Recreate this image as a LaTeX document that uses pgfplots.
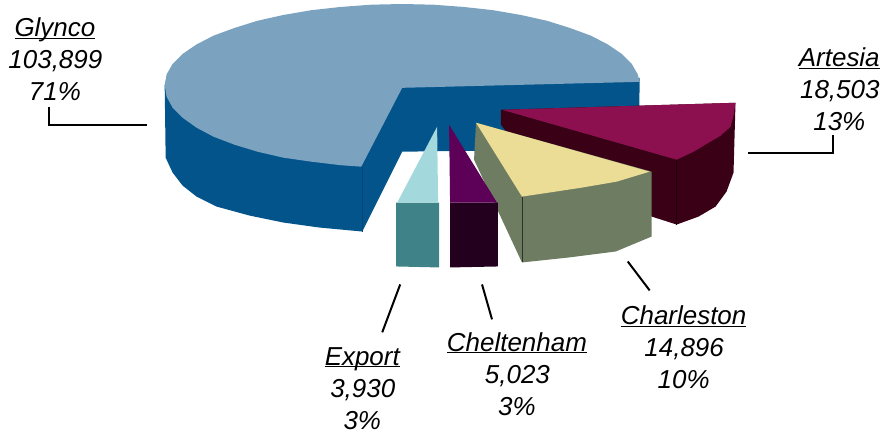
\documentclass[border=0pt]{standalone}
\usepackage{fontspec}
\setmainfont{Liberation Sans}
\usepackage{pgfplots}
\pgfplotsset{compat=1.18}
\definecolor{gtop}{HTML}{7BA3C0}
\definecolor{gside}{HTML}{04548C}
\definecolor{etop}{HTML}{A3D9DC}
\definecolor{eside}{HTML}{3F8288}
\definecolor{ctop}{HTML}{5C0058}
\definecolor{cside}{HTML}{22001E}
\definecolor{stop}{HTML}{EBDD96}
\definecolor{sside}{HTML}{6E7D62}
\definecolor{atop}{HTML}{8C1050}
\definecolor{aside}{HTML}{3A0016}
\newcommand{\lab}[5]{\node[anchor=base,font=\fontsize{26}{28}\selectfont\itshape] at (axis cs:#1,#2) {\underline{\smash{#3}}};
 \node[anchor=base,font=\fontsize{26}{28}\selectfont\itshape] at (axis cs:#1+0.5,#2+32) {#4};
 \node[anchor=base,font=\fontsize{26}{28}\selectfont\itshape] at (axis cs:#1,#2+64) {#5};}
\begin{document}
\begin{tikzpicture}
\begin{axis}[scale only axis,width=883pt,height=434pt,xmin=0,xmax=883,ymin=0,ymax=434,y dir=reverse,hide axis,clip=false,no markers]
\path (axis cs:0,0) rectangle (axis cs:883,434);
% Glynco side
\addplot[fill=gside,draw=none] coordinates {(165,85)(166,158)(173,173)(183,186)(197,197)(217,207)(250,216)(284,223)(320,228)(363,232)(403,152)(640,149)(641,78)(403,84)} --cycle;
\addplot[draw=black!15!gside,line width=0.5pt] coordinates {(363,167)(363,232)};
% Glynco top
\addplot[fill=gtop,draw=none] coordinates {(403,88)(641,82)(639,74.4)(633,64)(623,54)(609,44.5)(592,35.7)(571,28)(548,20.8)(522,15)(494,10.2)(465,7)(434,4.7)(403,4)(372,4.7)(341,7)(312,10.2)(284,15)(258,20.8)(235,28)(214,35.7)(197,44.5)(183,54)(173,64)(167,74.4)(165,85)(167,97)(173,108)(183,118)(197,128)(214,137)(235,145)(258,152)(284,158)(312,162)(341,165.5)(362,167)} --cycle;
% Artesia
\addplot[fill=aside,draw=none] coordinates {(502,110)(502,125)(560,200)(653,217)(678,225)(700,217)(717,207)(728,192)(735,173)(737,103)} --cycle;
\addplot[fill=atop,draw=none] coordinates {(503,110)(737,103)(735,116)(732,127)(722,136)(710,143)(695,152)(678,160)} --cycle;
\addplot[draw=black!50!aside,line width=0.5pt] coordinates {(678,160)(678,225)};
% Charleston
\addplot[fill=sside,draw=none] coordinates {(477,123)(475,160)(523,263)(570,258)(617,252)(653,237)(653,172)} --cycle;
\addplot[fill=stop,draw=none] coordinates {(477,123)(651,172)(618,182)(583,188)(550,193)(523,197)} --cycle;
\addplot[draw=black!60!sside,line width=0.5pt] coordinates {(523,197)(523,263)};
% Export
\addplot[fill=eside,draw=none] coordinates {(397,203)(440,203)(440,268)(397,267)} --cycle;
\addplot[fill=etop,draw=none] coordinates {(438,127)(439,203)(398,203)} --cycle;
% Cheltenham
\addplot[fill=cside,draw=none] coordinates {(451,203)(499,203)(499,267)(451,268)} --cycle;
\addplot[fill=ctop,draw=none] coordinates {(450,125)(498,203)(451,203)} --cycle;
% leader lines
\addplot[black,line width=2pt] coordinates {(49,107)(49,125)(147,125)};
\addplot[black,line width=2pt] coordinates {(750,153)(835,153)(835,135)};
\addplot[black,line width=2pt] coordinates {(629,262)(651,291)};
\addplot[black,line width=2pt] coordinates {(401,285)(383,333)};
\addplot[black,line width=2pt] coordinates {(483,285)(493,320)};
\lab{55}{37}{Glynco}{103,899}{71\%}
\lab{841}{67}{Artesia}{18,503}{13\%}
\lab{685}{325}{Charleston}{14,896}{10\%}
\lab{363}{366}{Export}{3,930}{3\%}
\lab{518}{352}{Cheltenham}{5,023}{3\%}
\end{axis}
\end{tikzpicture}
\end{document}
